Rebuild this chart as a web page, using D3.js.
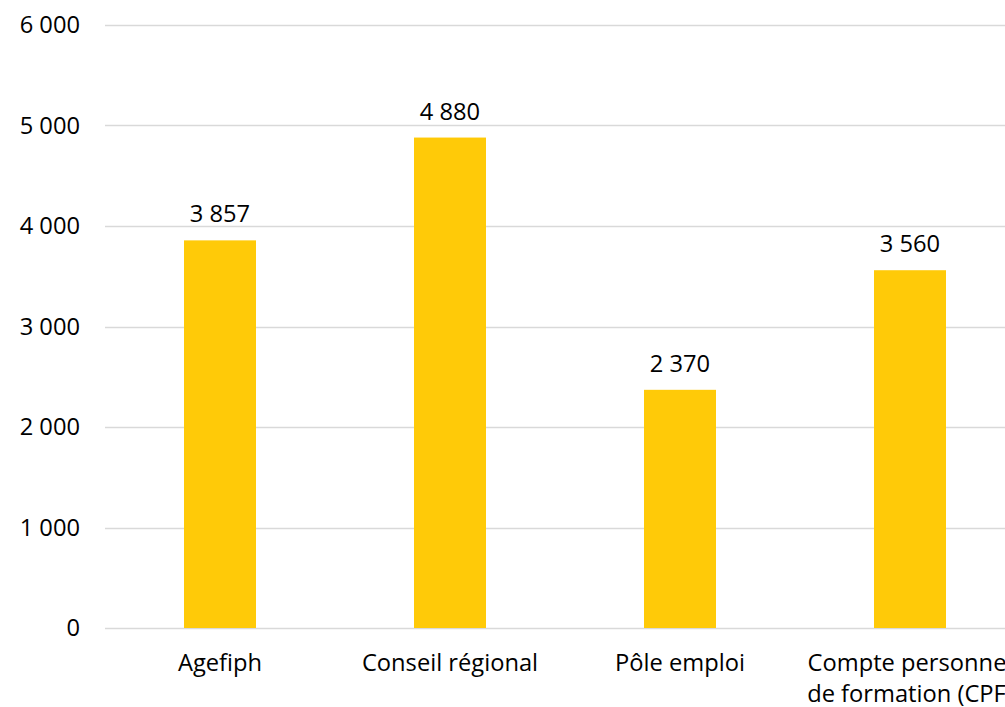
<!DOCTYPE html>
<html><head><meta charset="utf-8">
<script src="https://cdn.jsdelivr.net/npm/d3@7"></script>
<style>
body{margin:0;background:#fff;}
svg{display:block;font-family:"Open Sans",sans-serif;}
</style></head><body>
<svg id="c" width="1005" height="707"></svg>
<script>
const categories = ["Agefiph", "Conseil régional", "Pôle emploi", "Compte personnel de formation (CPF)"];
const categoryLines = [["Agefiph"], ["Conseil régional"], ["Pôle emploi"], ["Compte personnel", "de formation (CPF)"]];
const values = [3857, 4880, 2370, 3560];
const yTicks = [0, 1000, 2000, 3000, 4000, 5000, 6000];

const svg = d3.select("#c");
const fmt = v => d3.format(",")(v).replace(/,/g, "\u00a0");
const FS = 23.7;

const x = d3.scaleBand().domain(categories).range([105, 1025]).paddingInner(0.687).paddingOuter(0.3435);
const y = d3.scaleLinear().domain([0, 6000]).range([628, 25]);

// gridlines
svg.append("g").selectAll("line").data(yTicks).join("line")
  .attr("x1", 105).attr("x2", 1005)
  .attr("y1", d => Math.round(y(d)) + 0.5).attr("y2", d => Math.round(y(d)) + 0.5)
  .attr("stroke", "#d9d9d9").attr("stroke-width", 1.5);

// y labels
svg.append("g").selectAll("text").data(yTicks).join("text")
  .attr("x", 80).attr("y", d => y(d)).attr("dy", "0.35em")
  .attr("text-anchor", "end").attr("font-size", FS).attr("fill", "#000")
  .text(fmt);

// bars
svg.append("g").selectAll("rect").data(values).join("rect")
  .attr("x", (d, i) => x(categories[i])).attr("width", x.bandwidth())
  .attr("y", d => y(d)).attr("height", d => y(0) - y(d))
  .attr("fill", "#ffca08");

// value labels
svg.append("g").selectAll("text").data(values).join("text")
  .attr("x", (d, i) => x(categories[i]) + x.bandwidth() / 2)
  .attr("y", d => y(d) - 18)
  .attr("text-anchor", "middle").attr("font-size", FS).attr("fill", "#000")
  .text(fmt);

// category labels
const cg = svg.append("g").selectAll("text").data(categories).join("text")
  .attr("x", d => x(d) + x.bandwidth() / 2)
  .attr("y", 671)
  .attr("text-anchor", "middle").attr("font-size", FS).attr("fill", "#000");
cg.selectAll("tspan").data((d, i) => categoryLines[i]).join("tspan")
  .attr("x", function () { return d3.select(this.parentNode).attr("x"); })
  .attr("dy", (d, j) => j === 0 ? 0 : 31)
  .text(d => d);
</script>
</body></html>
